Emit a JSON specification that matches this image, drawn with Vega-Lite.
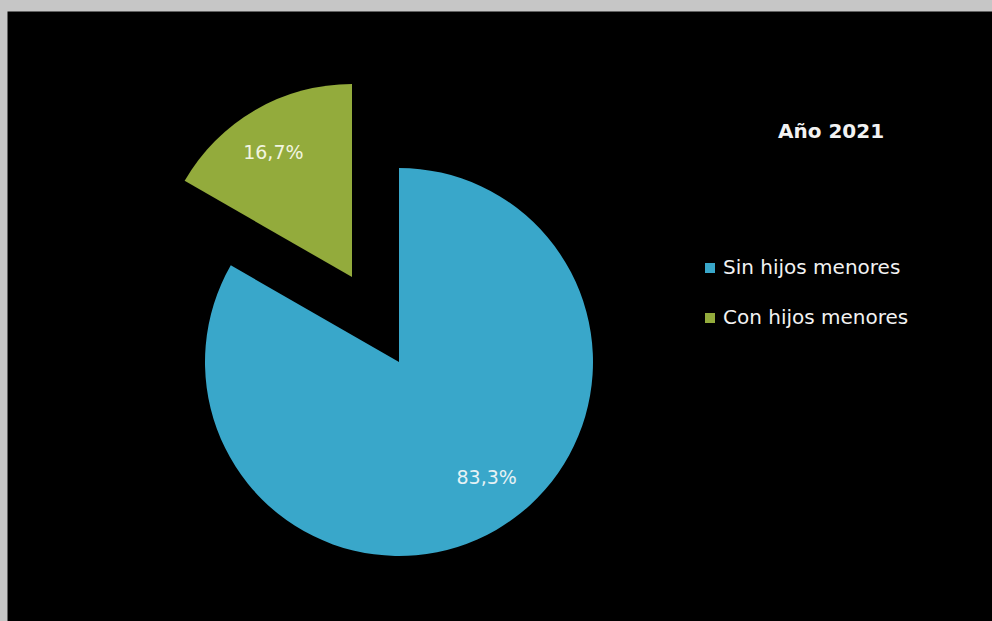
{
  "$schema": "https://vega.github.io/schema/vega-lite/v6.json",
  "width": 985,
  "height": 610,
  "autosize": {"type": "none"},
  "padding": {"left": 7, "top": 11, "right": 0, "bottom": 0},
  "background": "#c6c6c6",
  "view": {"fill": "#000000", "stroke": "transparent"},
  "title": {
    "text": "Año 2021",
    "orient": "top",
    "anchor": "start",
    "frame": "group",
    "offset": 0,
    "dx": 771,
    "dy": 141,
    "baseline": "middle",
    "font": "DejaVu Sans",
    "fontSize": 20,
    "fontWeight": "bold",
    "color": "#f2f2f2"
  },
  "data": {
    "values": [
      {"grupo": "Sin hijos menores", "pct": 83.3, "label": "83,3%"},
      {"grupo": "Con hijos menores", "pct": 16.7, "label": "16,7%"}
    ]
  },
  "encoding": {
    "theta": {"field": "pct", "type": "quantitative", "stack": true},
    "order": {"field": "grupo", "sort": "descending"}
  },
  "layer": [
    {
      "mark": {"type": "arc", "outerRadius": 194, "x": 392, "y": 351},
      "encoding": {
        "color": {
          "field": "grupo",
          "type": "nominal",
          "scale": {"domain": ["Sin hijos menores", "Con hijos menores"], "range": ["#39a7ca", "#93ab3c"]},
          "legend": {
            "orient": "none",
            "legendX": 693,
            "legendY": 247,
            "title": null,
            "symbolType": "square",
            "symbolSize": 100,
            "symbolStrokeWidth": 0,
            "labelFont": "DejaVu Sans",
            "labelFontSize": 20,
            "labelColor": "#f2f2f2",
            "labelOffset": 3,
            "rowPadding": 30,
            "labelLimit": 300
          }
        },
        "opacity": {"condition": {"test": "datum.grupo === 'Sin hijos menores'", "value": 1}, "value": 0}
      }
    },
    {
      "mark": {"type": "arc", "outerRadius": 193, "x": 345, "y": 266},
      "encoding": {
        "color": {"field": "grupo", "type": "nominal"},
        "opacity": {"condition": {"test": "datum.grupo === 'Con hijos menores'", "value": 1}, "value": 0}
      }
    },
    {
      "mark": {"type": "text", "radius": 145, "x": 392, "y": 351, "dx": 15, "dy": -9, "font": "DejaVu Sans", "fontSize": 19, "color": "#e6f2f5"},
      "encoding": {
        "text": {"field": "label"},
        "opacity": {"condition": {"test": "datum.grupo === 'Sin hijos menores'", "value": 1}, "value": 0}
      }
    },
    {
      "mark": {"type": "text", "radius": 147, "x": 345, "y": 266, "dx": -5, "dy": 3, "font": "DejaVu Sans", "fontSize": 19, "color": "#f2f5e0"},
      "encoding": {
        "text": {"field": "label"},
        "opacity": {"condition": {"test": "datum.grupo === 'Con hijos menores'", "value": 1}, "value": 0}
      }
    }
  ]
}
